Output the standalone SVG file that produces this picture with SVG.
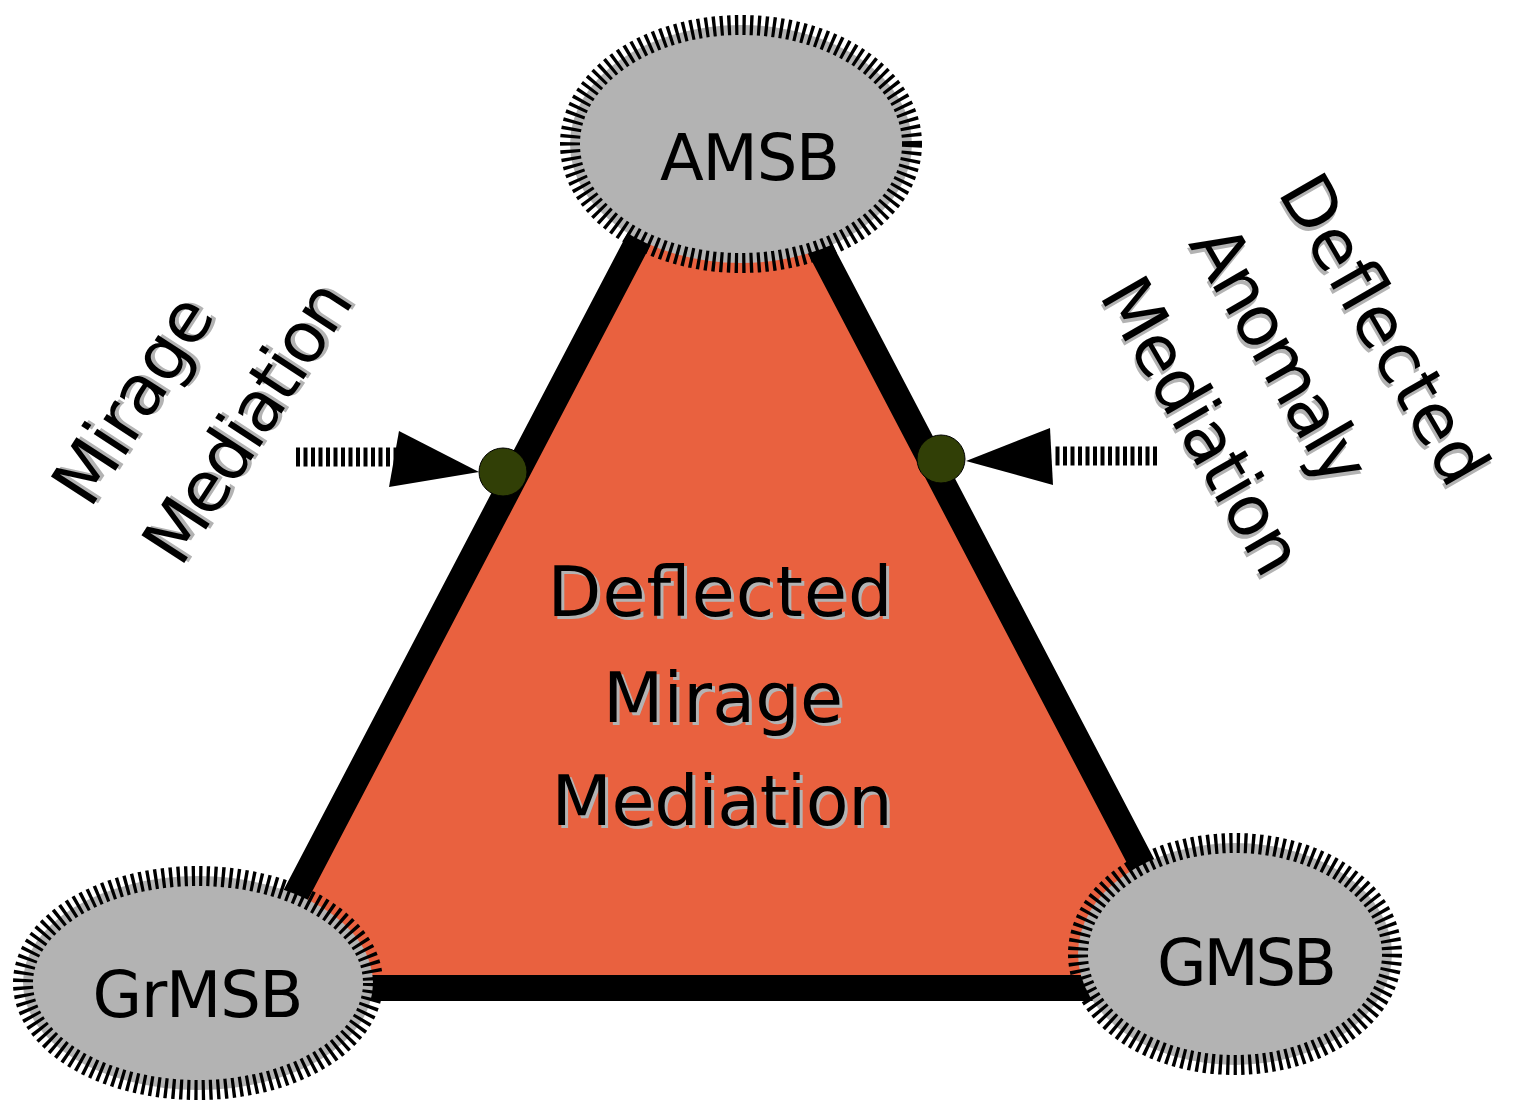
<svg xmlns="http://www.w3.org/2000/svg" width="1516" height="1103" viewBox="0 0 1516 1103">
<style>
.lbl{font-family:"DejaVu Sans","Liberation Sans",sans-serif;fill:#000}
.sh{fill:#b3b3b3}
.big{font-size:70px}
.node{font-size:64px;text-anchor:middle}
.ell{fill:#b3b3b3;stroke:#000;stroke-width:20;stroke-dasharray:3.3 4.2}
.dot{fill:#313f06;stroke:#000;stroke-width:1}
.shaft{stroke:#000;stroke-width:19;stroke-dasharray:4 3.5;fill:none}
</style>
<rect width="1516" height="1103" fill="#fff"/>
<g id="triangle">
<polygon points="727,71 247,988 1207,988" fill="#e9613f" stroke="#000" stroke-width="26" stroke-linejoin="miter"/>
</g>
<g id="AMSB">
<ellipse cx="741" cy="144" rx="171" ry="119" class="ell"/>
<text x="750" y="180" class="lbl node" textLength="180">AMSB</text>
</g>
<g id="GrMSB">
<ellipse cx="198" cy="983" rx="175" ry="107" class="ell"/>
<text x="198" y="1017" class="lbl node" textLength="211">GrMSB</text>
</g>
<g id="GMSB">
<ellipse cx="1235" cy="954" rx="157" ry="111" class="ell"/>
<text x="1247" y="985" class="lbl node" textLength="180">GMSB</text>
</g>
<g id="center-label">
<g transform="translate(3,3)" class="lbl sh big" text-anchor="middle">
<text x="720" y="616" class="sh" textLength="345">Deflected</text>
<text x="723" y="722" class="sh" textLength="240">Mirage</text>
<text x="722" y="825" class="sh" textLength="341">Mediation</text>
</g>
<g class="lbl big" text-anchor="middle">
<text x="720" y="616" textLength="345">Deflected</text>
<text x="723" y="722" textLength="240">Mirage</text>
<text x="722" y="825" textLength="341">Mediation</text>
</g>
</g>
<g id="mirage-label" transform="translate(90,510) rotate(-57)">
<g class="lbl big" transform="translate(3,3)">
<text x="0" y="0" class="sh" textLength="232">Mirage</text>
<text x="0" y="108" class="sh" textLength="320">Mediation</text>
</g>
<g class="lbl big">
<text x="0" y="0" textLength="232">Mirage</text>
<text x="0" y="108" textLength="320">Mediation</text>
</g>
</g>
<g id="dam-label" transform="translate(1277,192) rotate(60)">
<g class="lbl big" transform="translate(3,3)">
<text x="0" y="0" class="sh" textLength="345">Deflected</text>
<text x="0" y="103" class="sh" textLength="285">Anomaly</text>
<text x="0" y="206" class="sh" textLength="330">Mediation</text>
</g>
<g class="lbl big">
<text x="0" y="0" textLength="345">Deflected</text>
<text x="0" y="103" textLength="285">Anomaly</text>
<text x="0" y="206" textLength="330">Mediation</text>
</g>
</g>
<g id="dot-left"><circle cx="503" cy="472" r="24" class="dot"/></g>
<g id="dot-right"><circle cx="941" cy="459" r="24" class="dot"/></g>
<g id="connectors">
<line x1="296" y1="457" x2="396" y2="457" class="shaft"/>
<polygon points="399,431 389,487 479,472" fill="#000"/>
<line x1="1157" y1="456" x2="1052" y2="456" class="shaft"/>
<polygon points="1050,428 1053,485 966,461" fill="#000"/>
</g>
</svg>
